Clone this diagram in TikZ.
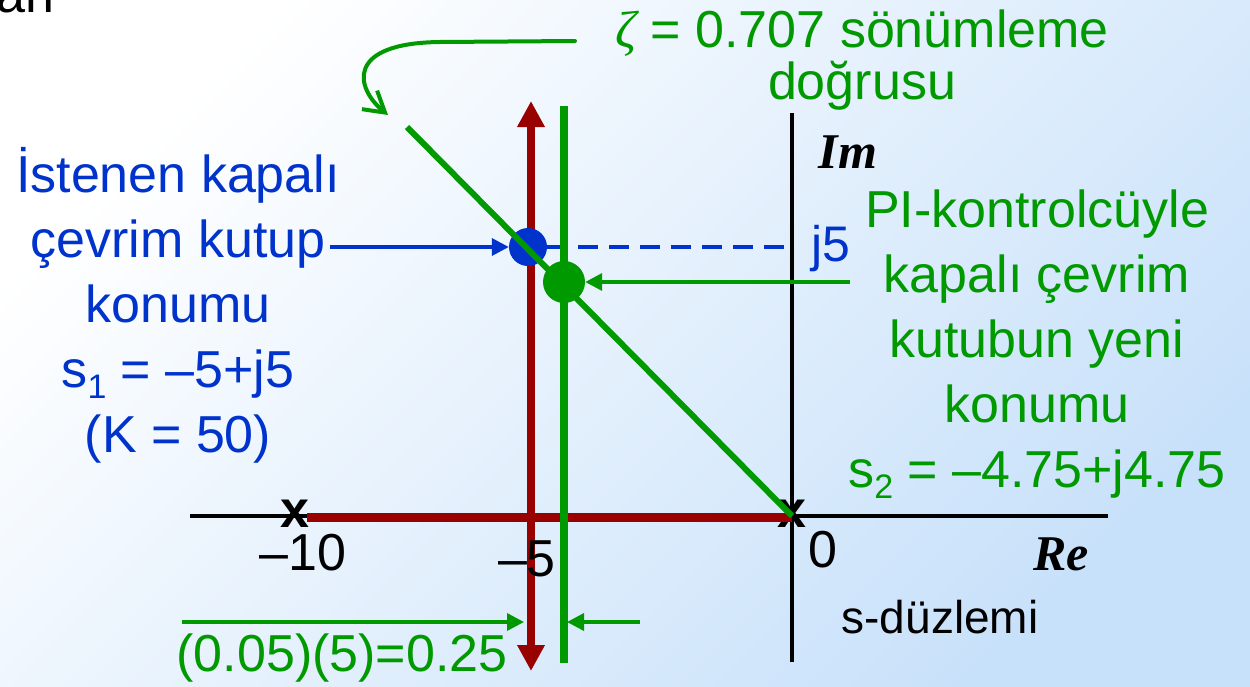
\documentclass[tikz,border=0pt]{standalone}
\usepackage{fontspec}
\setmainfont{Liberation Sans}
\newfontfamily\imrefont{Liberation Serif}
\usetikzlibrary{arrows.meta}
\definecolor{dred}{RGB}{153,0,0}
\definecolor{dgreen}{RGB}{0,153,0}
\definecolor{dblue}{RGB}{0,51,204}
\definecolor{bgblue}{RGB}{200,225,250}
\newcommand\mysub[1]{\raisebox{-0.22em}{\fontsize{34}{34}\selectfont #1}}
\begin{document}
\begin{tikzpicture}[x=1pt,y=-1pt,
  every node/.style={inner sep=0pt},
  big/.style={font=\fontsize{52}{65}\selectfont},
  txtblue/.style={big,text=dblue,align=center},
  txtgreen/.style={big,text=dgreen,align=center},
  axisline/.style={line width=3.5pt,black},
  redline/.style={line width=9pt,dred},
  redarrow/.style={line width=8pt,dred,{Triangle[length=26pt,width=26pt]}-{Triangle[length=26pt,width=26pt]}},
  greenline/.style={line width=8pt,dgreen},
  diagline/.style={line width=6pt,dgreen},
  pointer/.style={line width=3.5pt,-{Triangle[length=17pt,width=17pt]}},
  xmark/.style={font=\bfseries\fontsize{52}{52}\selectfont,text=black},
  scriptlab/.style={font=\fontsize{50}{50}\imrefont\bfseries\itshape\selectfont}]
\useasboundingbox (0,0) rectangle (1250,686);
\shade[top color=white,bottom color=bgblue,shading angle=45] (0,0) rectangle (1250,686);

% cut-off text
\node[big,anchor=base west] (cut) at (-4,12) {an};

% axes
\coordinate (xl) at (190,516);
\coordinate (xr) at (1108,516);
\coordinate (yt) at (792,113);
\coordinate (yb) at (792,662);
\draw[axisline] (xl) -- (xr);
\draw[axisline] (yt) -- (yb);

% pole marks
\node[xmark] (pm10) at (295,514) {x};
\node[xmark] (p0) at (792,514) {x};

% root locus (red)
\coordinate (rstart) at (307,517);
\coordinate (origin) at (792,517);
\draw[redline] (rstart) -- (origin);
\coordinate (rtop) at (531,101);
\coordinate (rbot) at (531,671);
\draw[redarrow] (rbot) -- (rtop);

% blue dashed to j5
\coordinate (j5pt) at (792,247);
\node[circle,fill=dblue,minimum size=38pt] (s1) at (528,247) {};
\draw[dblue,line width=4pt,dash pattern=on 20pt off 11pt] (s1.east) -- (j5pt);

% green vertical line
\coordinate (gtop) at (564,106);
\coordinate (gbot) at (564,663);
\draw[greenline] (gtop) -- (gbot);

% damping line
\coordinate (dstart) at (407,127);
\coordinate (dend) at (792,516);
\draw[diagline] (dstart) -- (dend);
\node[circle,fill=dgreen,minimum size=42pt] (s2) at (564,282) {};

% labels on axes
\node[big] (lm10) at (303,553) {–10};
\node[big] (lm5) at (527,559) {–5};
\node[big] (l0) at (823,550) {0};
\node[big,text=dblue,font=\fontsize{50}{50}\selectfont] (lj5) at (831,249) {j5};
\node[scriptlab] (im) at (848,152) {Im};
\node[scriptlab] (re) at (1061,554) {Re};
\node[font=\fontsize{46}{46}\selectfont] (splane) at (940,617) {s-düzlemi};

% text blocks
\node[txtblue] (lefttext) at (178,305) {İstenen kapalı\\çevrim kutup\\konumu\\s\mysub{1} = –5+j5\\(K = 50)};
\node[txtgreen] (righttext) at (1037,344) {PI-kontrolcüyle\\kapalı çevrim\\kutubun yeni\\konumu\\s\mysub{2} = –4.75+j4.75};
\node[txtgreen,font=\fontsize{52}{52}\selectfont] (zetatext) at (862,60) {{\imrefont\itshape ζ} = 0.707 sönümleme\\doğrusu};
\node[txtgreen] (shift) at (342,658) {(0.05)(5)=0.25};

% pointers
\coordinate (bstart) at (330,247);
\draw[pointer,dblue] (bstart) -- (s1.west);
\coordinate (gstart) at (850,282);
\draw[pointer,dgreen] (gstart) -- (s2.east);
\coordinate (a1s) at (182,622);
\coordinate (a1e) at (524,622);
\draw[pointer,dgreen] (a1s) -- (a1e);
\coordinate (a2s) at (640,622);
\coordinate (a2e) at (567,622);
\draw[pointer,dgreen] (a2s) -- (a2e);

% curved arrow to damping line
\coordinate (cstart) at (575,41);
\coordinate (cend) at (388,115);
\draw[dgreen,line width=4pt,line cap=round,-{Straight Barb[length=20pt,width=24pt]}]
  (cstart) -- (440,42) .. controls (345,43) and (355,88) .. (cend);
\end{tikzpicture}
\end{document}
